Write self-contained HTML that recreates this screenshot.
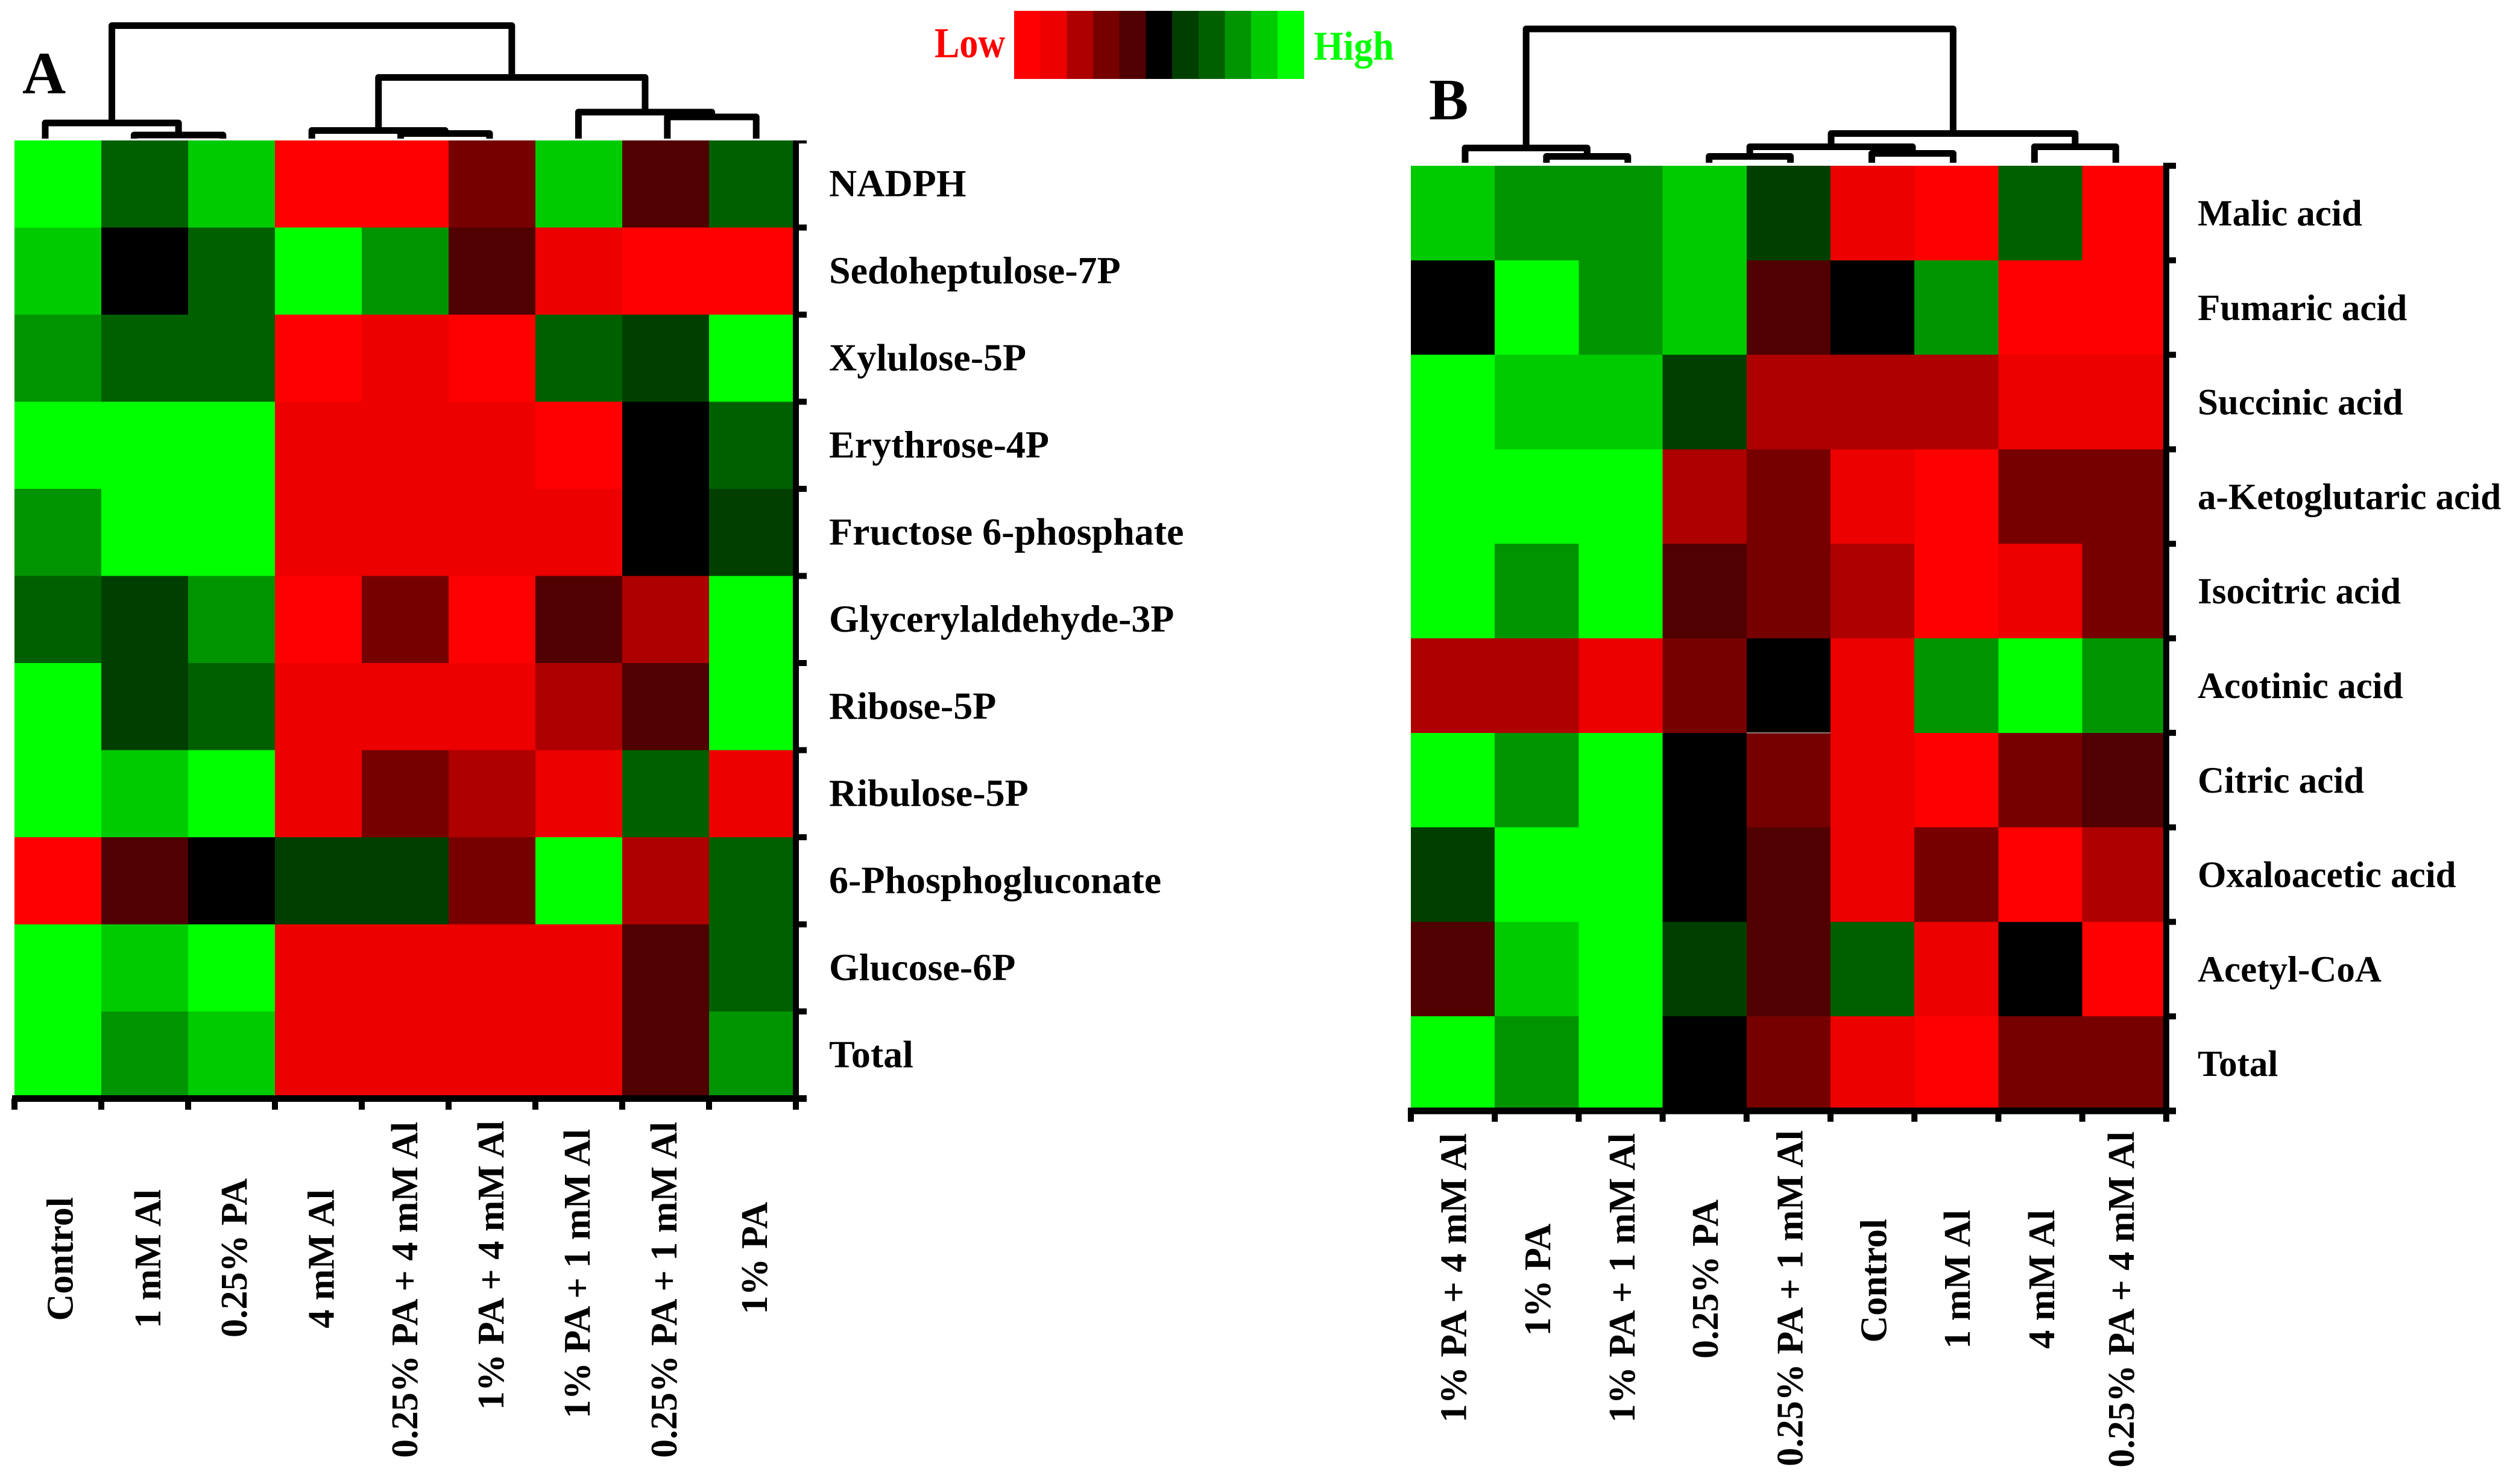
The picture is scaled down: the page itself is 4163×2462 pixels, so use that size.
<!DOCTYPE html>
<html lang="en">
<head>
<meta charset="utf-8">
<title>Heatmaps A and B</title>
<style>
html,body{margin:0;padding:0;background:#fff}
svg{display:block}
text{font-family:"Liberation Serif",serif;font-weight:bold}
</style>
</head>
<body>
<svg id="figure" xmlns="http://www.w3.org/2000/svg" width="4163" height="2462" viewBox="0 0 4163 2462">
  <rect x="0" y="0" width="4163" height="2462" fill="#fff"/>
  <text x="37" y="155" font-size="100" fill="#000">A</text>
  <text x="2370" y="198" font-size="98" fill="#000">B</text>
  <text transform="translate(1550,95) scale(1,1.14)" font-size="62" fill="#ff0000">Low</text>
  <text transform="translate(2179,99) scale(1,1.07)" font-size="63" fill="#00ff00">High</text>
  <defs>
    <clipPath id="panelAClip"><rect x="0" y="233" width="1400" height="1700"/></clipPath>
  </defs>
  <g id="legend"></g>
  <g id="panelA"></g>
  <g id="panelB"></g>
</svg>
<script>
// ---------- data ----------
const legendLevels = [-5,-4,-3,-2,-1,0,1,2,3,4,5];
const legendColors = ['#ff0000','#ec0000','#ae0000','#760000','#500000','#000000','#003f00','#006000','#009500','#00cb00','#00ff00'];

const categoriesA = ['Control','1 mM Al','0.25% PA','4 mM Al','0.25% PA + 4 mM Al','1% PA + 4 mM Al','1% PA + 1 mM Al','0.25% PA + 1 mM Al','1% PA'];
const rowLabelsA = ['NADPH','Sedoheptulose-7P','Xylulose-5P','Erythrose-4P','Fructose 6-phosphate','Glycerylaldehyde-3P','Ribose-5P','Ribulose-5P','6-Phosphogluconate','Glucose-6P','Total'];
const valuesA = [
  [5,2,4,-5,-5,-2,4,-1,2],
  [4,0,2,5,3,-1,-4,-5,-5],
  [3,2,2,-5,-4,-5,2,1,5],
  [5,5,5,-4,-4,-4,-5,0,2],
  [3,5,5,-4,-4,-4,-4,0,1],
  [2,1,3,-5,-2,-5,-1,-3,5],
  [5,1,2,-4,-4,-4,-3,-1,5],
  [5,4,5,-4,-2,-3,-4,2,-4],
  [-5,-1,0,1,1,-2,5,-3,2],
  [5,4,5,-4,-4,-4,-4,-1,2],
  [5,3,4,-4,-4,-4,-4,-1,3]
];
// linkage: [childA, childB, height]; ids >= 9 refer to earlier merges
const linkageA = [[1,2,6],[0,9,26],[4,5,8.5],[3,11,13.5],[7,8,36],[6,13,44],[12,14,101.5],[10,15,187.5]];

const categoriesB = ['1% PA + 4 mM Al','1% PA','1% PA + 1 mM Al','0.25% PA','0.25% PA + 1 mM Al','Control','1 mM Al','4 mM Al','0.25% PA + 4 mM Al'];
const rowLabelsB = ['Malic acid','Fumaric acid','Succinic acid','a-Ketoglutaric acid','Isocitric acid','Acotinic acid','Citric acid','Oxaloacetic acid','Acetyl-CoA','Total'];
const valuesB = [
  [4,3,3,4,1,-4,-5,2,-5],
  [0,5,3,4,-1,0,3,-5,-5],
  [5,4,4,1,-3,-3,-3,-4,-4],
  [5,5,5,-3,-2,-4,-5,-2,-2],
  [5,3,5,-1,-2,-3,-5,-4,-2],
  [-3,-3,-4,-2,0,-4,3,5,3],
  [5,3,5,0,-2,-4,-5,-2,-1],
  [1,5,5,0,-1,-4,-2,-5,-3],
  [-1,4,5,1,-1,2,-4,0,-5],
  [5,3,5,0,-2,-4,-5,-2,-2]
];
const linkageB = [[1,2,10.5],[0,9,24.5],[3,4,10.5],[5,6,15.5],[11,12,26.5],[7,8,26.5],[13,14,48.5],[10,15,222]];

// ---------- layout (not data) ----------
const labelNudgeA = [24.5,26,25,25.6,20,19,18,18,24];
const labelTopA = [1986,1973,1955,1973,1861,1859,1873,1861,1994];
const labelNudgeB = [22,22,23,22,23,23,22,23,16];
const labelTopB = [1880,2030,1880,1990,1875,2022,2007,2007,1877];

const layoutA = {
  x0:24, y0:233, cw:144, rh:144.5, axisEndX:1338, axisEndY:1841, axisStartX:20,
  rowTextX:1375, rowTextDy:20, leaf0:75, leafStep:147.4, leafBase:230,
  nudge:labelNudgeA, tops:labelTopA, labelSize:62, rowSize:64, clip:'url(#panelAClip)'
};
const layoutB = {
  x0:2340, y0:275, cw:139.2, rh:156.8, axisEndX:3609, axisEndY:1861, axisStartX:2335,
  rowTextX:3645, rowTextDy:20.6, leaf0:2430, leafStep:134.9, leafBase:270,
  nudge:labelNudgeB, tops:labelTopB, labelSize:62, rowSize:61, clip:null
};

const NS = 'http://www.w3.org/2000/svg';
function make(tag, parent, attrs) {
  const el = document.createElementNS(NS, tag);
  for (const k in attrs) el.setAttribute(k, attrs[k]);
  parent.appendChild(el);
  return el;
}
function colorOf(value) {
  const v = Math.max(-5, Math.min(5, Math.round(value)));
  return legendColors[legendLevels.indexOf(v)];
}

// ---------- legend ----------
function drawLegend() {
  const g = document.getElementById('legend');
  const left = 1682, right = 2162.5, top = 18, bottom = 131;
  const w = (right - left) / legendLevels.length;
  legendLevels.forEach(function (lv, i) {
    const s = make('rect', g, {x:left + i*w, y:top, width:w + 0.5, height:bottom - top, fill:colorOf(lv), 'shape-rendering':'crispEdges'});
    
    
  });
}

// ---------- panel ----------
function drawPanel(root, L, categories, rowLabels, values, linkage) {
  const nCols = categories.length, nRows = rowLabels.length;
  const xAt = function (i) { return L.x0 + i * L.cw; };
  const yAt = function (j) { return L.y0 + j * L.rh; };
  const right = xAt(nCols), bottom = yAt(nRows);

  // cells
  values.forEach(function (row, j) {
    row.forEach(function (v, i) {
      const c = make('rect', root, {x:xAt(i), y:yAt(j), width:L.cw + 0.6, height:L.rh + 0.6, fill:colorOf(v), 'shape-rendering':'crispEdges'});
      
      
    });
  });

  // axes
  const axes = make('g', root, L.clip ? {'clip-path':L.clip, fill:'#000'} : {fill:'#000'});
  
  
  make('rect', axes, {x:right - 5, y:L.y0, width:10, height:bottom - L.y0 + 5});
  make('rect', axes, {x:L.axisStartX, y:bottom - 5.5, width:L.axisEndX - L.axisStartX, height:11});
  for (let j = 0; j <= nRows; j++) {
    const t = make('rect', axes, {x:right - 5, y:yAt(j) - 5, width:L.axisEndX - right + 5, height:10});
    
    
  }
  for (let i = 0; i <= nCols; i++) {
    const t = make('rect', axes, {x:xAt(i) - 5, y:bottom, width:10, height:L.axisEndY - bottom});
    
    
  }

  // row labels
  rowLabels.forEach(function (name, j) {
    const t = make('text', root, {x:L.rowTextX, y:yAt(j) + L.rh/2 + L.rowTextDy, 'font-size':L.rowSize, fill:'#000'});
    t.textContent = name;
    
    
  });

  // column labels
  categories.forEach(function (name, i) {
    const x = xAt(i) + L.cw/2 + L.nudge[i];
    const y = L.tops[i];
    const t = make('text', root, {transform:'translate(' + x + ',' + y + ') rotate(-90)', 'text-anchor':'end', 'font-size':L.labelSize, fill:'#000'});
    t.textContent = name;
    
    
  });

  // dendrogram
  const den = make('g', root, {fill:'none', stroke:'#000', 'stroke-width':11, 'stroke-linejoin':'round'});
  
  
  const nodeX = {}, nodeH = {};
  for (let i = 0; i < nCols; i++) { nodeX[i] = L.leaf0 + i * L.leafStep; nodeH[i] = 0; }
  linkage.forEach(function (m, k) {
    const a = m[0], b = m[1], h = m[2], id = nCols + k;
    nodeX[id] = (nodeX[a] + nodeX[b]) / 2;
    nodeH[id] = h;
    const yBar = L.leafBase - h;
    const d = 'M' + nodeX[a] + ' ' + (L.leafBase - nodeH[a]) + ' V' + yBar + ' H' + nodeX[b] + ' V' + (L.leafBase - nodeH[b]);
    const p = make('path', den, {d:d});
    
    
  });
  return {xAt:xAt, yAt:yAt};
}

drawLegend();
drawPanel(document.getElementById('panelA'), layoutA, categoriesA, rowLabelsA, valuesA, linkageA);
const scalesB = drawPanel(document.getElementById('panelB'), layoutB, categoriesB, rowLabelsB, valuesB, linkageB);

// thin light line visible in the source between two cells of panel B
const seam = make('rect', document.getElementById('panelB'), {x:scalesB.xAt(4), y:scalesB.yAt(6) - 1, width:layoutB.cw, height:2, fill:'#8f8078'});


</script>
</body>
</html>
